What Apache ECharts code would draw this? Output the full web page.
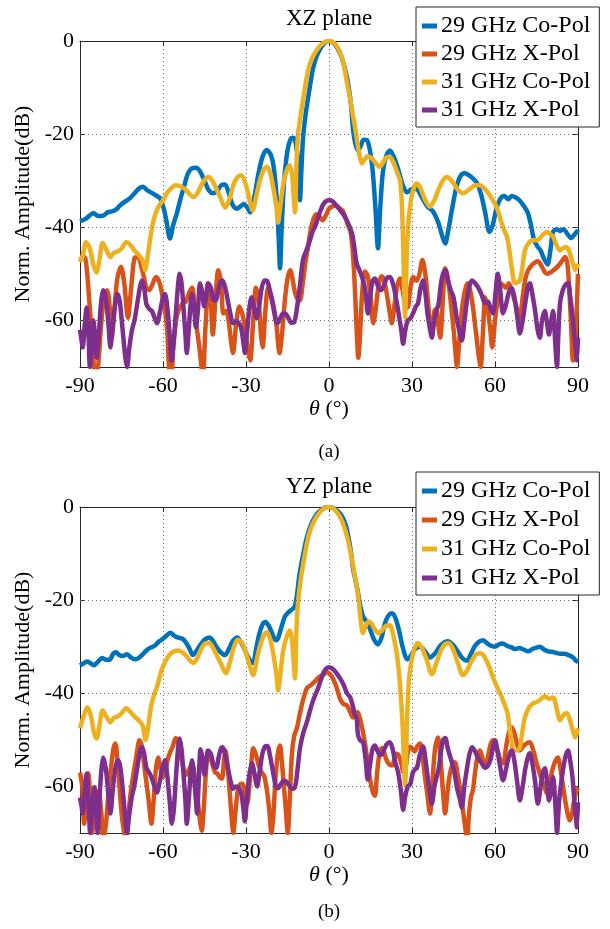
<!DOCTYPE html>
<html>
<head>
<meta charset="utf-8">
<title>XZ / YZ plane patterns</title>
<script src="https://cdn.jsdelivr.net/npm/echarts@6/dist/echarts.min.js"></script>
<style>
html,body{margin:0;padding:0;background:#fff;}
#chart{width:610px;height:929px;}
</style>
</head>
<body>
<div id="chart"></div>
<script>
// tick labels
var thetaTicks = [-90, -60, -30, 0, 30, 60, 90];
var dbTicks = [0, -20, -40, -60];
var dbGrid = [-20, -40, -60];
var seriesNames = ['29 GHz Co-Pol', '29 GHz X-Pol', '31 GHz Co-Pol', '31 GHz X-Pol'];

// XZ plane, [theta (deg), amplitude (dB)]
var xzCo29 = [[-90,-38.7],[-88,-38.2],[-86,-37.2],[-85,-37],[-83.5,-37.6],[-81.6,-37.5],[-80,-36.8],[-78.5,-36.6],[-77,-36.2],[-75.5,-35.3],[-74,-34.6],[-72,-33.8],[-70,-32.5],[-68.5,-31.6],[-67.2,-31.3],[-65.8,-32],[-64.7,-32.4],[-63,-33],[-61,-33.8],[-59.5,-36.5],[-58.6,-39.2],[-57.5,-42.4],[-56.3,-39.5],[-55,-37],[-53.5,-33.5],[-52.5,-31.5],[-51,-28.5],[-49.5,-27.3],[-48,-27.2],[-46.6,-28],[-45,-30],[-43.5,-32],[-42,-32.7],[-40.5,-32.3],[-39,-31],[-37.6,-30.8],[-36.3,-32.5],[-35,-35],[-33.3,-36],[-32,-35.5],[-30.8,-35],[-29.5,-35.8],[-28.5,-36.8],[-27,-33.5],[-25.5,-28.5],[-24,-24.8],[-22.5,-23.4],[-21,-24.5],[-20,-27],[-19,-33],[-18.2,-42],[-17.7,-48.8],[-17.1,-40],[-16.2,-30],[-15,-23.5],[-13.8,-21],[-12.8,-20.8],[-12,-22],[-11.2,-26],[-10.5,-34.2],[-10,-28],[-9.4,-21],[-8.5,-16],[-7.5,-12],[-6.5,-8.3],[-5.7,-5.7],[-4.5,-3.3],[-3,-1.5],[-1.5,-0.4],[0,0],[1.5,-0.4],[3,-1.5],[4.5,-3.4],[6,-6.5],[7,-9.5],[8,-14],[8.7,-19],[9.5,-22],[10.5,-23.5],[11.5,-22.5],[12.5,-21.2],[13.7,-21.3],[14.8,-23.5],[15.8,-28],[16.8,-36],[17.7,-44.5],[18.5,-36],[19.5,-28],[20.8,-24.5],[22,-23.5],[23.5,-25],[25,-27.5],[26.7,-31],[28.3,-32.5],[30,-31.8],[31.6,-31.8],[33.5,-33.5],[35.5,-35.5],[37.6,-36.6],[39.5,-39],[41,-42],[42,-43.5],[43,-41],[44.5,-36],[46,-31.5],[47.5,-29],[49,-28.4],[50.5,-28.8],[52,-29.5],[53.5,-30.5],[55,-33],[56.5,-37],[58,-41],[59.2,-39.5],[60.5,-36],[62,-33.8],[63.5,-33.3],[64.8,-34],[66,-33.3],[67.5,-33.6],[69,-34.3],[70.5,-35.5],[71.8,-36.8],[73,-39.5],[74,-42.5],[75.2,-44],[76.5,-45],[77.5,-46.5],[79,-48],[80,-45],[81,-41],[82.3,-40.4],[83.5,-40.8],[84.8,-40.4],[86,-41.3],[87.5,-42.3],[88.8,-41.5],[90,-40.6]];
var xzX29 = [[-90,-47],[-89,-46.5],[-88.3,-46.4],[-87.4,-50],[-86.5,-57],[-85.5,-65],[-84.5,-72],[-83.5,-70],[-82.5,-62],[-81.5,-56],[-80.2,-53.5],[-79.3,-57],[-78.5,-63.7],[-77.6,-58],[-76.5,-51],[-75.2,-48.5],[-74,-52],[-72.7,-59.4],[-71.5,-53],[-70.3,-46.6],[-69,-46.4],[-67.8,-48.5],[-66.8,-51],[-66,-53],[-65,-53.5],[-64,-52.5],[-62.5,-50.7],[-61.2,-52],[-60,-55.5],[-59,-59],[-58.4,-63],[-57.8,-70],[-57,-72],[-56.2,-65],[-55,-59],[-54,-57.4],[-52.8,-56.2],[-51.8,-56],[-50.5,-54],[-49.5,-53],[-48.7,-56],[-47.8,-61.5],[-46.8,-66],[-45.6,-72],[-44.7,-62],[-43.5,-52.5],[-42.8,-55],[-42,-63],[-41,-55],[-40,-49.2],[-39,-52],[-38.2,-58.5],[-37.2,-58],[-36.3,-60],[-35.5,-64],[-34.7,-67],[-33.6,-61],[-32.4,-57],[-31.4,-58.5],[-30.5,-61],[-29.4,-66],[-28.5,-68.6],[-27.5,-61],[-26.4,-53],[-25.5,-55],[-24.6,-63],[-24,-65.8],[-23,-58],[-22,-53],[-21,-54.5],[-20,-57],[-19,-61],[-17.9,-67],[-17,-63],[-16,-56],[-15,-51],[-14,-49.2],[-13.2,-51],[-12.3,-54],[-11.3,-55.5],[-10.5,-55.7],[-9.5,-52],[-8.5,-47.5],[-7.6,-44.3],[-6.6,-40.5],[-5.5,-38],[-4.4,-37.2],[-3.3,-37.8],[-2.3,-38.5],[-1.2,-37.5],[0,-36],[1,-35.6],[2,-35.3],[3,-35.5],[4,-36],[5,-36.5],[6,-38],[7,-39.8],[7.8,-41],[8.7,-46],[9.5,-55],[10,-62],[10.6,-68],[11.3,-62],[12,-54],[13,-49.5],[14,-50.5],[15,-55],[16,-60.6],[16.8,-58],[17.8,-53],[19,-50.5],[19.8,-51],[20.8,-54],[22,-58.5],[22.7,-60.6],[23.7,-56.5],[24.7,-52.5],[25.7,-51],[26.6,-53.5],[27.5,-56.5],[28.4,-57.2],[29.4,-53],[30.5,-50.7],[31.5,-51.5],[32.5,-50.5],[33.8,-47],[34.8,-50],[35.8,-56],[36.5,-61],[37.2,-62.8],[38.1,-58],[38.8,-57.5],[39.5,-61],[40.2,-63.7],[41.2,-55],[42,-48.8],[43,-51],[44,-56],[45.2,-63],[46.3,-70],[47,-65],[48,-58],[49,-54],[50,-52],[51,-53.5],[52,-57],[53,-62],[54,-67],[54.8,-70],[55.6,-63],[56.5,-55],[57.5,-58],[58.3,-62],[59,-65.8],[60,-60],[61,-55.5],[62,-52],[63,-52.5],[64,-53],[65,-52],[66,-53.5],[67.2,-56],[68.2,-58],[69,-59.4],[70,-55],[71,-51],[72,-49.2],[73.5,-48],[75.5,-47.3],[77,-48.5],[78.2,-49.8],[79,-50],[80.5,-49.5],[82,-48.8],[83.3,-48],[84.5,-47],[85.3,-46.4],[86.2,-48],[86.9,-54],[87.6,-62],[88.2,-68.6],[88.8,-68],[89.4,-60],[90,-50]];
var xzCo31 = [[-90,-47.5],[-89,-46],[-87.8,-43.2],[-86.5,-44.5],[-85.2,-48],[-84,-49.7],[-83,-47],[-81.8,-43.4],[-80.5,-44.8],[-79,-46.4],[-77.8,-45.5],[-76.5,-45.2],[-75,-44.6],[-73.3,-43.2],[-71.8,-43.8],[-70.3,-45],[-69,-45.8],[-67.5,-47],[-66.5,-49.2],[-65.5,-46],[-64.5,-42],[-63.6,-39],[-62,-36],[-60,-34.2],[-58.5,-32.6],[-57,-31.6],[-55.5,-31],[-53.8,-31.2],[-52,-31.8],[-50.5,-32.8],[-49,-33.5],[-47.5,-32.6],[-46,-30.8],[-44.5,-29.5],[-43.5,-29.2],[-42,-30.2],[-40.5,-32],[-39,-34],[-37.5,-35.8],[-36,-34],[-34.5,-30.8],[-33,-29.2],[-31.8,-28.8],[-30.5,-30],[-29.2,-32.8],[-27.6,-36.4],[-26.2,-33],[-24.8,-29.5],[-23.5,-27.5],[-22.4,-27],[-21.2,-28.5],[-20,-32],[-19,-35.6],[-18.4,-39],[-17.7,-36],[-16.6,-31],[-15.4,-28],[-14.2,-26.7],[-13.3,-29],[-12.8,-33],[-12.3,-36.8],[-11.8,-27],[-11.2,-20],[-10.5,-17],[-9.4,-12.7],[-8.3,-8.6],[-7.3,-5.7],[-6,-3.6],[-4.5,-2],[-3,-0.9],[-1.5,-0.2],[0,0],[1.5,-0.3],[3,-1.3],[4.5,-3.3],[5.5,-5.5],[6.5,-9],[7.5,-12],[8.5,-15.5],[9.5,-18.8],[10.3,-22],[11,-24.5],[11.9,-26.3],[12.8,-25.5],[13.8,-24.8],[14.8,-24.9],[15.8,-25.4],[17,-26.3],[18.4,-27],[19.6,-26],[20.8,-25],[22,-24.9],[23.2,-26],[24.5,-28],[25.7,-30],[26.4,-36],[26.9,-46],[27.5,-59.4],[28.1,-46],[28.7,-39],[29.3,-35.6],[30.3,-32.2],[31.6,-30.6],[33,-31.5],[34.5,-33.8],[36.5,-35.6],[38,-34.3],[39.5,-32],[41,-30.1],[42.6,-29.2],[44,-29.8],[45.5,-31],[47,-32.2],[48.4,-32.7],[50,-32.2],[51.5,-31.5],[53,-31],[54.6,-31],[56,-31.6],[57.5,-32.6],[59.3,-34.2],[60.8,-36],[62,-38.3],[63.2,-40.5],[64.3,-42],[65.2,-45],[66,-48.5],[67.2,-52],[68.2,-51.8],[69,-51.4],[69.8,-49],[70.8,-45],[72,-43.5],[73.7,-42.8],[75,-42.8],[76.3,-42.3],[77.5,-41.5],[78.8,-41],[80,-41.5],[81,-42],[82.2,-43.8],[83.5,-45],[84.8,-44.4],[86,-44.3],[87,-45.5],[88,-47.5],[89,-49.2],[90,-47.8]];
var xzX31 = [[-90,-62],[-89.5,-64],[-89,-65.8],[-88.3,-61],[-87.6,-57.2],[-87,-62],[-86.4,-70],[-85.8,-66],[-85.2,-60],[-84.6,-63],[-84,-68],[-83.3,-64],[-82.5,-57],[-81.6,-53.5],[-80.6,-55.5],[-79.7,-61],[-79,-65.8],[-78.3,-62],[-77.4,-57],[-76.5,-54.3],[-75.6,-56],[-74.6,-62],[-73.6,-68],[-73,-70],[-72.2,-66],[-71.2,-62],[-70.3,-60],[-69.2,-56],[-68.2,-52.5],[-67.6,-51.4],[-66.8,-53],[-66,-56.5],[-65,-57.5],[-64,-58],[-63,-59.5],[-62.2,-60.6],[-61.2,-58.5],[-60.2,-55.5],[-59.3,-54.3],[-58.4,-57.5],[-57.6,-63],[-56.9,-68.6],[-56.2,-65],[-55.3,-58],[-54.5,-52],[-54,-50],[-53.3,-52],[-52.5,-58],[-51.9,-63],[-51.4,-67],[-50.8,-63],[-50.1,-57],[-49.5,-54.3],[-48.8,-57],[-48.1,-61.5],[-47.4,-58],[-46.6,-52],[-45.8,-54],[-45.1,-57],[-44.4,-55],[-43.7,-52],[-42.7,-53],[-41.8,-55.5],[-41,-55.7],[-40,-53.5],[-39.2,-51.8],[-38.5,-51.4],[-37.5,-53],[-36.5,-56],[-35.5,-59],[-34.7,-60.6],[-33.7,-60.2],[-32.7,-60.5],[-31.8,-61.5],[-31,-64.5],[-30.4,-67],[-29.7,-63],[-28.8,-57.5],[-28,-55],[-27.2,-57],[-26.2,-59.5],[-25.3,-57],[-24.3,-53],[-23.3,-51.4],[-22.4,-51.5],[-21.4,-53.5],[-20.2,-57],[-19.2,-60],[-18.6,-60.6],[-17.6,-59.5],[-16.6,-58.5],[-15.6,-58.6],[-14.6,-59.6],[-13.6,-60.5],[-12.6,-60.4],[-11.5,-57],[-10.5,-52.5],[-9.4,-47],[-8.2,-45],[-7,-43],[-6,-41],[-5,-39.8],[-4,-38],[-3,-36.3],[-2,-35],[-1,-34.4],[0,-34.2],[1.2,-34.4],[2.5,-35.2],[4,-36.3],[5.5,-37.5],[6.8,-39],[8.3,-41.3],[9.2,-44.5],[10,-47.8],[11.2,-49.5],[12.3,-51.4],[13.2,-54],[14.1,-58.5],[14.8,-55.5],[15.7,-51.6],[16.6,-51],[17.6,-52.5],[18.7,-53.5],[19.6,-52.8],[20.8,-51],[22,-50.7],[23.2,-52.3],[24.3,-55.5],[25.3,-59],[26.1,-62],[26.8,-65],[27.6,-62],[28.5,-60],[29.5,-59.5],[30.5,-58.3],[31.4,-57],[32.2,-56.3],[33.1,-53],[34,-51.4],[34.8,-54],[35.6,-58.5],[36.4,-61.5],[37.2,-63.7],[38,-60],[38.8,-58],[39.6,-56.5],[40.5,-52],[41.3,-49.8],[42,-49.2],[43,-51.5],[44,-53.5],[45,-55],[46.3,-60],[47.2,-62.5],[48,-64.3],[48.9,-60.5],[49.8,-56],[50.8,-52.5],[51.7,-51.4],[52.8,-52],[54,-53],[55.2,-54.5],[56.4,-56.3],[57.5,-56],[58.4,-57.5],[59.3,-58.5],[60.2,-54],[61,-50],[61.8,-53],[62.9,-58.5],[63.8,-57],[65,-54],[66,-53],[67,-55],[68,-59],[69,-62.8],[70,-60],[71,-56],[72,-52.5],[72.6,-52],[73.4,-54],[74.5,-58],[75.4,-62],[76.2,-63.7],[77,-60],[78,-58],[78.8,-60.5],[79.5,-63],[80.2,-60.5],[81,-58],[81.6,-63],[82.1,-68],[82.4,-70],[82.9,-63],[83.5,-56.3],[84.5,-53.5],[85.5,-52.3],[86.4,-52],[87.2,-55],[88,-59],[88.8,-64],[89.3,-67],[89.6,-68.6],[90,-63.7]];

// YZ plane, [theta (deg), amplitude (dB)]
var yzCo29 = [[-90,-34],[-88.8,-33.6],[-87.5,-33.2],[-86.3,-33.5],[-85,-34],[-83.5,-33.2],[-82,-32.4],[-80.6,-32.8],[-79.3,-32.8],[-78,-31.5],[-77,-31.2],[-75.8,-31.8],[-74.5,-32],[-73,-31.6],[-71.6,-32.3],[-70.2,-32.7],[-69,-32.5],[-67.6,-31.8],[-66,-30.8],[-64.5,-30.2],[-63,-29.8],[-61.5,-28.9],[-60,-28.3],[-58.5,-27.5],[-57.3,-27],[-56,-27.6],[-54.7,-28],[-53,-28.3],[-51.8,-29],[-50.5,-30.3],[-49.2,-31.8],[-48,-31],[-46.6,-29.7],[-45,-28.5],[-43.2,-28],[-42,-28.7],[-40.5,-30.2],[-39,-31.3],[-37.6,-31.8],[-36.2,-30.5],[-34.8,-28.8],[-33.2,-28],[-31.8,-29],[-30.2,-31],[-28.7,-32.8],[-27.4,-33.5],[-26.5,-31],[-25.3,-27.5],[-24,-25.2],[-23,-24.7],[-21.8,-25.5],[-20.5,-27.2],[-19.3,-28.6],[-18.5,-28.3],[-17.3,-26],[-16,-23.6],[-15,-22.8],[-13.8,-22.2],[-12.5,-21.5],[-11.6,-19],[-10.8,-15],[-10,-12.2],[-9,-9.2],[-8,-6.5],[-7,-4.6],[-5.8,-2.9],[-4.4,-1.5],[-3,-0.7],[-1.5,-0.15],[0,0],[1.5,-0.2],[3,-0.8],[4.5,-1.8],[6,-3.8],[7.2,-7],[8,-10],[8.7,-13.3],[9.5,-15.5],[10.5,-18.5],[11.4,-21.5],[12.4,-23.6],[13.7,-24.7],[15,-26.5],[16.3,-28.5],[17.7,-29.5],[19,-28],[20.2,-25],[21.5,-23.3],[22.8,-22.8],[24,-23.8],[25.3,-26.5],[26.6,-30],[28.3,-32.7],[29.5,-32],[31,-30.6],[32.9,-30],[34.5,-30.8],[36.5,-32.3],[38.5,-31.3],[40.5,-29.6],[43,-28.8],[44.8,-29.6],[46.5,-31],[48.3,-32.5],[49.9,-33],[51.3,-31.5],[52.8,-29.8],[54.3,-28.9],[55.7,-28.6],[57,-29.2],[58.5,-29.8],[60,-30],[61.4,-29.5],[62.8,-29.3],[64.3,-29.8],[65.8,-30.1],[67.2,-30.5],[68.8,-30.3],[70.3,-30.6],[72,-31],[73.5,-30.5],[75,-30.2],[76.2,-30],[77.7,-30.6],[79.2,-31],[80.6,-31.1],[82,-31.3],[83.5,-31.5],[85,-31.5],[86.6,-31.8],[88.2,-32.3],[89.2,-33],[90,-33.3]];
var yzX29 = [[-90,-57],[-89.2,-60],[-88.5,-68],[-87.8,-63],[-87,-57.2],[-86.3,-62],[-85.6,-70],[-84.8,-66],[-84,-61.5],[-83.3,-61],[-82.4,-65],[-81.5,-71],[-80.6,-68],[-79.8,-62],[-78.8,-56],[-77.8,-51.5],[-77.2,-50.8],[-76.4,-55],[-75.6,-61],[-74.8,-66.7],[-74,-70],[-73.3,-72],[-72.5,-66],[-71.6,-61],[-70.6,-57],[-69.6,-53.5],[-68.5,-50.1],[-67.6,-51.5],[-66.7,-56],[-65.8,-60],[-65,-64],[-64.2,-68],[-63.5,-64],[-62.7,-57],[-61.8,-53.8],[-60.9,-56],[-60,-58],[-59.1,-56.5],[-58.2,-54],[-57.3,-52.5],[-56.5,-51.5],[-55.4,-49.6],[-54.3,-51],[-53.4,-54],[-52.4,-56.5],[-51.5,-57.5],[-50.5,-56.3],[-49.5,-55],[-48.6,-57.5],[-47.8,-61],[-46.9,-66],[-46,-69.5],[-45.3,-65],[-44.5,-57],[-43.7,-52.9],[-42.8,-54],[-42,-55.5],[-41.2,-57],[-40.4,-57.2],[-39.5,-58],[-38.7,-58.3],[-37.9,-54],[-37.4,-52.3],[-36.6,-56],[-35.8,-62],[-35,-68],[-34.6,-70],[-33.9,-66],[-33,-61],[-32.1,-59.5],[-31.3,-59.4],[-30.4,-61],[-29.6,-63.8],[-28.8,-60],[-28,-54.5],[-27.4,-51.8],[-26.5,-53],[-25.4,-55.5],[-24.3,-57],[-23.4,-57.8],[-22.4,-61],[-21.6,-65],[-20.8,-70],[-20.1,-66],[-19.3,-58],[-18.4,-52.5],[-17.7,-51.2],[-17,-55],[-16.3,-60],[-15.6,-65],[-14.9,-70],[-14.2,-63],[-13.4,-53],[-12.6,-49.2],[-11.6,-47.5],[-10.5,-44.3],[-9.4,-41.5],[-8,-38.9],[-6.6,-38.3],[-5,-37.4],[-3.6,-36.5],[-2.2,-36.1],[-0.7,-35.5],[0.5,-36],[1.4,-36.8],[2.6,-38.5],[4,-41.2],[5.2,-42.3],[6.5,-42.6],[7.5,-43.8],[8.7,-45.2],[9.6,-44.5],[10.3,-44],[11.2,-45.5],[12.3,-48.4],[13.2,-51.5],[14.1,-55.5],[15,-59],[16,-61.5],[16.6,-62],[17.4,-57],[18.2,-53],[19,-51.8],[19.8,-52.5],[20.7,-54.2],[21.7,-55.2],[22.8,-55.5],[23.7,-54],[24.5,-53],[25.3,-53.5],[26.1,-55],[27,-57],[27.7,-56],[28.5,-52.5],[29.3,-51.5],[30,-51.8],[31,-52.5],[32,-51.3],[32.9,-50.8],[33.8,-53.5],[34.6,-57.5],[35.5,-61.5],[36.5,-65.8],[37.3,-60],[38.3,-52],[39.4,-49.5],[40.3,-54],[41.2,-61],[42,-65.8],[42.7,-62],[43.5,-58],[44.5,-55.5],[45.5,-54.8],[46.5,-57.5],[47.5,-61],[48.5,-65.5],[49.3,-69],[49.9,-72],[50.6,-66],[51.4,-62],[52,-60.9],[52.8,-57],[53.7,-53.5],[54.6,-52.3],[55.5,-54],[56.5,-56],[57.5,-53.5],[58.4,-51],[59.3,-50.1],[60.2,-51.5],[61.2,-53],[62.1,-54.5],[63,-55],[64,-51.5],[65,-48.5],[66,-47.3],[67,-48.5],[68,-51],[69,-52.3],[70,-51.5],[71.3,-50.8],[72.6,-50.5],[73.7,-52],[74.6,-54],[75.5,-55.9],[76.6,-58],[77.8,-60],[78.8,-61.5],[79.6,-59.5],[80.5,-57],[81.5,-55],[82.7,-53.8],[83.6,-56],[84.6,-60],[85.5,-63.5],[86.3,-66],[87,-67.3],[87.8,-66],[88.6,-63],[89.4,-61],[90,-60.2]];
var yzCo31 = [[-90,-47.5],[-88.7,-45],[-87.3,-43],[-86,-45],[-85,-48.3],[-84,-49.7],[-83,-47],[-81.8,-43.7],[-80.5,-45],[-79,-46.2],[-77.8,-45.3],[-76.5,-45],[-75,-44.3],[-73.3,-43.2],[-71.8,-44],[-70.3,-45],[-68.8,-45.8],[-67.3,-47],[-66.3,-50],[-65.3,-47],[-64.4,-43],[-63.3,-40.5],[-62,-38.3],[-60.5,-35],[-59,-33],[-57.5,-31.6],[-56,-31],[-54.5,-30.8],[-53,-31.2],[-51.5,-32],[-50.2,-33],[-49,-33.5],[-47.7,-32.5],[-46.2,-30.5],[-44.8,-29.3],[-43.2,-29.2],[-41.7,-30.5],[-40.2,-32.3],[-38.8,-34],[-37.3,-35.7],[-35.9,-33.5],[-34.5,-30.3],[-33,-28.5],[-31.6,-29],[-30.2,-31],[-28.8,-33.8],[-27.4,-36.1],[-26.2,-33],[-24.8,-29.5],[-23.5,-27.5],[-22.4,-26.9],[-21.2,-28.5],[-20,-32],[-19,-36],[-18.4,-39.4],[-17.6,-36],[-16.6,-31],[-15.4,-28],[-14.2,-26.5],[-13.3,-29],[-12.8,-33],[-12.3,-36.8],[-11.8,-27],[-11.2,-20.5],[-10.5,-16.8],[-9.4,-12.5],[-8.3,-8.8],[-7.3,-6],[-6,-3.8],[-4.5,-2.1],[-3,-0.9],[-1.5,-0.2],[0,0],[1.5,-0.3],[3,-1.2],[4.5,-2.7],[5.8,-4.8],[7,-7.5],[8.2,-11],[9.2,-14.3],[10,-16.8],[10.8,-20.5],[11.5,-24.5],[12.3,-27.1],[13.3,-25.5],[14.3,-24.6],[15.3,-25],[16.5,-26.2],[17.8,-27.1],[19,-26.6],[20.5,-25.6],[22,-25.4],[23.2,-27.5],[24.5,-31.5],[25.7,-38.3],[26.6,-47],[27.5,-59.6],[28.2,-46],[28.8,-38],[29.6,-33.8],[30.8,-30.6],[32.2,-29.2],[33.6,-30.3],[35.3,-32.8],[37.2,-35.9],[38.8,-33.5],[40.3,-31],[41.8,-29.5],[43.2,-29.2],[44.8,-30.5],[46.6,-33.5],[48.4,-36.1],[50,-35],[51.6,-33],[53.2,-31.6],[54.6,-31.4],[56,-32],[57.7,-34],[59.3,-36.6],[60.8,-38.8],[62.2,-40.5],[63.3,-42.2],[64.3,-43.7],[65.2,-47],[66,-50.5],[66.7,-52.3],[67.8,-52.3],[69,-51.6],[69.8,-48.5],[70.8,-45.2],[72.3,-43],[73.7,-42.2],[75,-41.9],[76.5,-41.3],[78,-40.6],[79.5,-41.2],[81,-40.9],[82.2,-43],[83.5,-45.8],[84.8,-44.6],[86,-44.3],[87,-45.6],[88,-47.7],[89,-49.5],[90,-47.5]];
var yzX31 = [[-90,-62.4],[-89.5,-64],[-89,-65.8],[-88.3,-61],[-87.6,-57.2],[-87,-62],[-86.3,-70],[-85.6,-65],[-84.8,-60.2],[-84.2,-64],[-83.6,-70],[-82.9,-62],[-82.2,-56],[-81.6,-53.8],[-80.6,-56.5],[-79.7,-62],[-79,-65.8],[-78.2,-61],[-77.2,-56],[-76.2,-54.4],[-75.4,-56],[-74.5,-61],[-73.6,-67],[-73,-70],[-72.2,-66],[-71.2,-62],[-70.4,-60],[-69.3,-56],[-68.3,-52.5],[-67.6,-51.6],[-66.8,-53],[-66,-56],[-65,-57],[-64,-58.3],[-63.1,-60],[-62.2,-61.3],[-61.2,-59],[-60.2,-56],[-59.3,-54.4],[-58.5,-57.5],[-57.6,-63],[-56.8,-68],[-56.1,-65],[-55.2,-57],[-54.5,-51.5],[-54,-49.7],[-53.3,-52],[-52.5,-58],[-51.9,-63],[-51.4,-68],[-50.7,-63],[-50,-57],[-49.5,-54.4],[-48.8,-58],[-48.1,-63],[-47.7,-65.8],[-47.1,-59],[-46.4,-52],[-45.7,-54],[-45,-57.5],[-44.4,-55],[-43.7,-52.3],[-42.7,-53],[-41.7,-55.5],[-40.8,-56],[-39.8,-53.5],[-39,-51.8],[-38.4,-51.6],[-37.4,-53.5],[-36.4,-56.5],[-35.4,-59.3],[-34.7,-60.5],[-33.7,-60],[-32.6,-60.3],[-31.7,-61.5],[-31,-64.5],[-30.4,-67.5],[-29.7,-63],[-28.8,-57.5],[-27.8,-55],[-27,-57],[-26,-60],[-25.1,-57],[-24.1,-53],[-23.1,-51.4],[-22.3,-51.3],[-21.3,-53.5],[-20.2,-57],[-19.2,-60],[-18.4,-60.4],[-17.4,-59.5],[-16.4,-58.8],[-15.4,-59],[-14.4,-59.8],[-13.3,-60.5],[-12.3,-60.2],[-11.4,-56.5],[-10.5,-51.8],[-9.3,-48.5],[-8,-46.2],[-7,-44],[-6,-42],[-5,-40.4],[-4,-39],[-3,-37.2],[-2,-35.6],[-1,-34.7],[0,-34.4],[1.2,-34.7],[2.5,-35.5],[4,-36.8],[5.3,-38.2],[6.5,-40],[7.6,-40.8],[8.5,-42.5],[9.3,-44.5],[10,-45.4],[10.5,-49],[11.4,-50.2],[12.3,-50.5],[13.2,-54],[14,-58.5],[14.8,-55.5],[15.7,-52],[16.6,-51.2],[17.6,-52.5],[18.6,-53.3],[19.6,-52.5],[20.8,-51],[22,-50.5],[23,-52],[24,-55],[25,-57],[26,-61],[26.8,-65],[27.6,-62],[28.5,-60],[29.4,-59.5],[30.3,-57],[31.1,-56.3],[31.8,-56],[32.9,-53],[34,-51.4],[34.8,-54],[35.7,-58],[36.5,-61.5],[37.2,-63.7],[38.1,-60],[38.9,-58],[39.7,-56],[40.6,-52],[41.3,-50],[42,-49.6],[43,-52],[44,-54],[45.2,-56.5],[46.3,-60.4],[47.2,-62.5],[48,-64.5],[48.9,-60],[49.9,-56],[50.8,-53],[51.7,-51.6],[52.8,-52.5],[54,-54],[55.2,-55],[56.4,-56],[57.5,-55.5],[58.5,-54],[59.3,-51.5],[60,-50.1],[60.8,-52],[61.8,-55.5],[62.9,-58.7],[63.9,-56.5],[65,-53.5],[66,-52.3],[67,-54.5],[68,-59],[69,-63],[70,-60],[71,-56],[72,-53.5],[72.6,-52.9],[73.5,-55],[74.5,-59],[75.5,-63.7],[76.5,-60],[77.3,-57],[78,-56.1],[78.8,-59],[79.5,-63],[80.2,-61],[81,-58],[81.6,-62],[82.1,-67],[82.4,-70],[83.2,-63],[84.2,-58],[85.3,-54],[86.4,-52.3],[87.2,-54.5],[88,-58],[88.8,-64],[89.3,-67],[89.6,-68.8],[90,-63.4]];

var colors = ['#0072BD', '#D95319', '#EDB120', '#7E2F8E'];
var FONT = '"Liberation Serif", "Times New Roman", serif';
var AX = '#262626';

function xAxes(gi) {
	return [{
		type: 'value', gridIndex: gi, min: -90, max: 90, interval: 30, position: 'bottom',
		axisLine: {onZero: false, lineStyle: {color: AX}},
		axisTick: {inside: true, length: 5, lineStyle: {color: AX}},
		axisLabel: {color: '#000', fontFamily: FONT, fontSize: 22, margin: 8,
			customValues: thetaTicks},
		splitLine: {show: true, lineStyle: {type: [1, 3], color: '#6e6e6e', width: 1}},
		name: '{i|θ} (°)', nameLocation: 'middle', nameGap: 31,
		nameTextStyle: {color: '#000', fontFamily: FONT, fontSize: 22,
			rich: {i: {fontStyle: 'italic', fontFamily: FONT, fontSize: 22}}}
	}, {
		type: 'value', gridIndex: gi, min: -90, max: 90, interval: 30, position: 'top',
		axisLine: {onZero: false, lineStyle: {color: AX}},
		axisTick: {inside: true, length: 5, lineStyle: {color: AX}},
		axisLabel: {show: false}, splitLine: {show: false}
	}];
}
function yAxes(gi) {
	return [{
		type: 'value', gridIndex: gi, min: -70, max: 0, position: 'left',
		axisLine: {show: true, onZero: false, lineStyle: {color: AX}},
		axisTick: {show: true, inside: true, length: 5, lineStyle: {color: AX}, customValues: dbTicks},
		axisLabel: {color: '#000', fontFamily: FONT, fontSize: 22, margin: 6, customValues: dbTicks},
		splitLine: {show: false},
		name: 'Norm. Amplitude(dB)', nameLocation: 'middle', nameGap: 40,
		nameTextStyle: {color: '#000', fontFamily: FONT, fontSize: 22}
	}, {
		type: 'value', gridIndex: gi, min: -70, max: 0, position: 'right',
		axisLine: {show: true, onZero: false, lineStyle: {color: AX}},
		axisTick: {show: true, inside: true, length: 5, lineStyle: {color: AX}, customValues: dbTicks},
		axisLabel: {show: false}, splitLine: {show: false}
	}];
}
function gridLines(ai) {
	return {
		type: 'line', xAxisIndex: ai, yAxisIndex: ai, data: [], silent: true, z: 1,
		markLine: {
			silent: true, animation: false, symbol: ['none', 'none'], label: {show: false},
			lineStyle: {type: [1, 3], color: '#6e6e6e', width: 1},
			data: dbGrid.map(function (v) { return {yAxis: v}; })
		}
	};
}
function curves(ai, sets) {
	return sets.map(function (d, i) {
		return {
			name: seriesNames[i], type: 'line', xAxisIndex: ai, yAxisIndex: ai,
			data: d, showSymbol: false, symbol: 'none', smooth: 0.3, clip: true,
			lineStyle: {width: 4.5, color: colors[i]}, itemStyle: {color: colors[i]},
			emphasis: {disabled: true}
		};
	});
}
function legendAt(top, gap) {
	return {
		data: seriesNames, orient: 'vertical', left: 416, top: top,
		icon: 'rect', itemWidth: 15, itemHeight: 5, itemGap: gap,
		padding: [7, 9, 5, 6], borderColor: AX, borderWidth: 1, backgroundColor: '#fff',
		selectedMode: false,
		textStyle: {color: '#000', fontFamily: FONT, fontSize: 24, lineHeight: 24, padding: [0, 0, 0, -1]}
	};
}
function label(text, x, y, size) {
	return {type: 'text', x: x, y: y, z: 10,
		style: {text: text, fill: '#000', font: size + 'px ' + FONT, textAlign: 'center', textVerticalAlign: 'middle'}};
}

var chart = echarts.init(document.getElementById('chart'), null, {renderer: 'canvas'});
chart.setOption({
	animation: false,
	backgroundColor: '#fff',
	grid: [
		{left: 80, top: 41, width: 498, height: 326},
		{left: 80, top: 507, width: 498, height: 326}
	],
	xAxis: xAxes(0).concat(xAxes(1)),
	yAxis: yAxes(0).concat(yAxes(1)),
	legend: [legendAt(7, 4), legendAt(472, 5)],
	graphic: [
		label('XZ plane', 329, 19, 23),
		label('(a)', 329, 452, 19),
		label('YZ plane', 329, 487, 23),
		label('(b)', 329, 912, 19)
	],
	series: [gridLines(0)].concat(curves(0, [xzCo29, xzX29, xzCo31, xzX31]))
		.concat([gridLines(2)]).concat(curves(2, [yzCo29, yzX29, yzCo31, yzX31]))
});
</script>
</body>
</html>
